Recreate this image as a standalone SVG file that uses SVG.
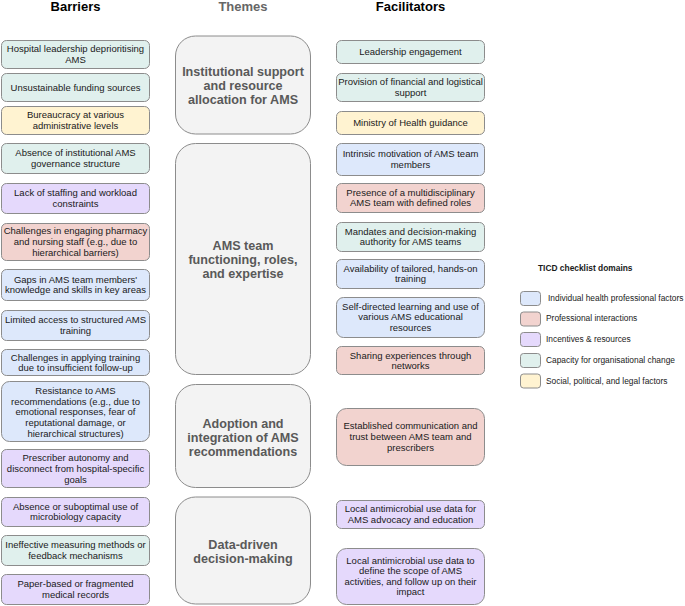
<svg xmlns="http://www.w3.org/2000/svg" width="685" height="606" viewBox="0 0 685 606">
<style>
.b{stroke:#8c8c8c;stroke-width:1}
.teal{fill:#e0f0ed}.yel{fill:#fff3d1}.pur{fill:#e5d9fc}.red{fill:#f2d3cf}.blu{fill:#dde8fb}
.theme{fill:#f3f3f3;stroke:#8c8c8c;stroke-width:1}
.t{font-family:"Liberation Sans",Arial,sans-serif;font-size:9.5px;fill:#1a1a1a;text-anchor:middle}
.tt{font-family:"Liberation Sans",Arial,sans-serif;font-size:12.6px;font-weight:bold;fill:#595959;text-anchor:middle}
.h{font-family:"Liberation Sans",Arial,sans-serif;font-size:13px;font-weight:bold;text-anchor:middle}
.lg{font-family:"Liberation Sans",Arial,sans-serif;font-size:8.4px;fill:#1a1a1a}
</style>
<rect width="685" height="606" fill="#ffffff"/>
<g id="headers">
<text class="h" x="75.5" y="10.5" fill="#000">Barriers</text>
<text class="h" x="243" y="10.5" fill="#666">Themes</text>
<text class="h" x="410.5" y="10.5" fill="#000">Facilitators</text>
</g>
<g id="connectors"></g>
<g id="barriers">
<g id="b1"><rect class="b teal" x="1.5" y="40.5" width="148" height="28" rx="5"/><text class="t" x="75.5" y="52.1">Hospital leadership deprioritising</text><text class="t" x="75.5" y="62.7">AMS</text></g>
<g id="b2"><rect class="b teal" x="1.5" y="73.5" width="148" height="28" rx="5"/><text class="t" x="75.5" y="90.7">Unsustainable funding sources</text></g>
<g id="b3"><rect class="b yel" x="1.5" y="106.5" width="148" height="28" rx="5"/><text class="t" x="75.5" y="118.1">Bureaucracy at various</text><text class="t" x="75.5" y="128.7">administrative levels</text></g>
<g id="b4"><rect class="b teal" x="1.5" y="143.5" width="148" height="30" rx="5"/><text class="t" x="75.5" y="156.1">Absence of institutional AMS</text><text class="t" x="75.5" y="166.7">governance structure</text></g>
<g id="b5"><rect class="b pur" x="1.5" y="183.5" width="148" height="30" rx="5"/><text class="t" x="75.5" y="196.1">Lack of staffing and workload</text><text class="t" x="75.5" y="206.7">constraints</text></g>
<g id="b6"><rect class="b red" x="1.5" y="223.5" width="148" height="37" rx="5"/><text class="t" x="75.5" y="234.3">Challenges in engaging pharmacy</text><text class="t" x="75.5" y="244.9">and nursing staff (e.g., due to</text><text class="t" x="75.5" y="255.5">hierarchical barriers)</text></g>
<g id="b7"><rect class="b blu" x="1.5" y="269.5" width="148" height="31" rx="5"/><text class="t" x="75.5" y="282.6">Gaps in AMS team members'</text><text class="t" x="75.5" y="293.2">knowledge and skills in key areas</text></g>
<g id="b8"><rect class="b blu" x="1.5" y="310.5" width="148" height="30" rx="5"/><text class="t" x="75.5" y="323.1">Limited access to structured AMS</text><text class="t" x="75.5" y="333.7">training</text></g>
<g id="b9"><rect class="b blu" x="1.5" y="349.5" width="148" height="26" rx="5"/><text class="t" x="75.5" y="360.6">Challenges in applying training</text><text class="t" x="75.5" y="371.2">due to insufficient follow-up</text></g>
<g id="b10"><rect class="b blu" x="1.5" y="381.5" width="148" height="60" rx="8"/><text class="t" x="75.5" y="394.2">Resistance to AMS</text><text class="t" x="75.5" y="404.8">recommendations (e.g., due to</text><text class="t" x="75.5" y="415.4">emotional responses, fear of</text><text class="t" x="75.5" y="426">reputational damage, or</text><text class="t" x="75.5" y="436.6">hierarchical structures)</text></g>
<g id="b11"><rect class="b pur" x="1.5" y="449.5" width="148" height="38" rx="5"/><text class="t" x="75.5" y="461.3">Prescriber autonomy and</text><text class="t" x="75.5" y="471.9">disconnect from hospital-specific</text><text class="t" x="75.5" y="482.5">goals</text></g>
<g id="b12"><rect class="b pur" x="1.5" y="497.5" width="148" height="29" rx="5"/><text class="t" x="75.5" y="509.6">Absence or suboptimal use of</text><text class="t" x="75.5" y="520.2">microbiology capacity</text></g>
<g id="b13"><rect class="b teal" x="1.5" y="535.5" width="148" height="30" rx="5"/><text class="t" x="75.5" y="548.1">Ineffective measuring methods or</text><text class="t" x="75.5" y="558.7">feedback mechanisms</text></g>
<g id="b14"><rect class="b pur" x="1.5" y="574.5" width="148" height="30" rx="5"/><text class="t" x="75.5" y="587.1">Paper-based or fragmented</text><text class="t" x="75.5" y="597.7">medical records</text></g>
</g>
<g id="themes">
<g id="th1"><rect class="theme" x="175.5" y="36" width="135" height="98" rx="20"/><text class="tt" x="243" y="75.5">Institutional support</text><text class="tt" x="243" y="89.5">and resource</text><text class="tt" x="243" y="103.5">allocation for AMS</text></g>
<g id="th2"><rect class="theme" x="175.5" y="143.5" width="135" height="231" rx="20"/><text class="tt" x="243" y="249.5">AMS team</text><text class="tt" x="243" y="263.5">functioning, roles,</text><text class="tt" x="243" y="277.5">and expertise</text></g>
<g id="th3"><rect class="theme" x="175.5" y="384.5" width="135" height="103" rx="20"/><text class="tt" x="243" y="427.5">Adoption and</text><text class="tt" x="243" y="441.5">integration of AMS</text><text class="tt" x="243" y="455.5">recommendations</text></g>
<g id="th4"><rect class="theme" x="175.5" y="497" width="135" height="107" rx="20"/><text class="tt" x="243" y="548.5">Data-driven</text><text class="tt" x="243" y="562.5">decision-making</text></g>
</g>
<g id="facilitators">
<g id="f1"><rect class="b teal" x="336.5" y="40.5" width="148" height="23" rx="5"/><text class="t" x="410.5" y="54.9">Leadership engagement</text></g>
<g id="f2"><rect class="b teal" x="336.5" y="73.5" width="148" height="28" rx="5"/><text class="t" x="410.5" y="85.1">Provision of financial and logistical</text><text class="t" x="410.5" y="95.7">support</text></g>
<g id="f3"><rect class="b yel" x="336.5" y="111.5" width="148" height="23" rx="5"/><text class="t" x="410.5" y="125.9">Ministry of Health guidance</text></g>
<g id="f4"><rect class="b blu" x="336.5" y="143.5" width="148" height="32" rx="5"/><text class="t" x="410.5" y="157.1">Intrinsic motivation of AMS team</text><text class="t" x="410.5" y="167.7">members</text></g>
<g id="f5"><rect class="b red" x="336.5" y="183.5" width="148" height="29" rx="5"/><text class="t" x="410.5" y="195.6">Presence of a multidisciplinary</text><text class="t" x="410.5" y="206.2">AMS team with defined roles</text></g>
<g id="f6"><rect class="b teal" x="336.5" y="222.5" width="148" height="29" rx="5"/><text class="t" x="410.5" y="234.6">Mandates and decision-making</text><text class="t" x="410.5" y="245.2">authority for AMS teams</text></g>
<g id="f7"><rect class="b blu" x="336.5" y="259.5" width="148" height="29" rx="5"/><text class="t" x="410.5" y="271.6">Availability of tailored, hands-on</text><text class="t" x="410.5" y="282.2">training</text></g>
<g id="f8"><rect class="b blu" x="336.5" y="297.5" width="148" height="40" rx="7"/><text class="t" x="410.5" y="309.8">Self-directed learning and use of</text><text class="t" x="410.5" y="320.4">various AMS educational</text><text class="t" x="410.5" y="331">resources</text></g>
<g id="f9"><rect class="b red" x="336.5" y="346.5" width="148" height="28" rx="5"/><text class="t" x="410.5" y="358.6">Sharing experiences through</text><text class="t" x="410.5" y="369.2">networks</text></g>
<g id="f10"><rect class="b red" x="336.5" y="408.5" width="148" height="57" rx="10"/><text class="t" x="410.5" y="429.3">Established communication and</text><text class="t" x="410.5" y="439.9">trust between AMS team and</text><text class="t" x="410.5" y="450.5">prescribers</text></g>
<g id="f11"><rect class="b pur" x="336.5" y="500.5" width="148" height="28" rx="5"/><text class="t" x="410.5" y="512.1">Local antimicrobial use data for</text><text class="t" x="410.5" y="522.7">AMS advocacy and education</text></g>
<g id="f12"><rect class="b pur" x="336.5" y="548.5" width="148" height="56" rx="10"/><text class="t" x="410.5" y="563.5">Local antimicrobial use data to</text><text class="t" x="410.5" y="574.1">define the scope of AMS</text><text class="t" x="410.5" y="584.7">activities, and follow up on their</text><text class="t" x="410.5" y="595.3">impact</text></g>
</g>
<g id="legend">
<text class="lg" x="538" y="271" font-weight="bold">TICD checklist domains</text>
<rect class="b blu" x="520.5" y="291.5" width="20" height="14" rx="3"/><text class="lg" x="548" y="301.3">Individual health professional factors</text>
<rect class="b red" x="520.5" y="312" width="20" height="14" rx="3"/><text class="lg" x="546" y="321">Professional interactions</text>
<rect class="b pur" x="520.5" y="332.5" width="20" height="14" rx="3"/><text class="lg" x="546" y="341.5">Incentives &amp; resources</text>
<rect class="b teal" x="520.5" y="353.5" width="20" height="14" rx="3"/><text class="lg" x="546" y="363">Capacity for organisational change</text>
<rect class="b yel" x="520.5" y="374" width="20" height="14" rx="3"/><text class="lg" x="546" y="384">Social, political, and legal factors</text>
</g>
</svg>
